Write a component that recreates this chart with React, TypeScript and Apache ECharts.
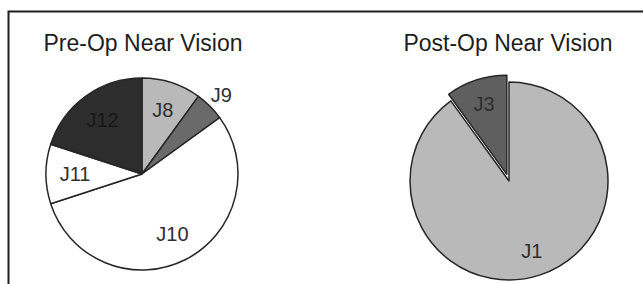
import React, { useEffect, useRef } from "react";
import * as echarts from "echarts";

// Pre-op near vision (patients per Jaeger grade)
const preOpNames = ["J8", "J9", "J10", "J11", "J12"];
const preOpCounts = [2, 1, 11, 2, 4];
const preOpOutsideLabels = ["J9"];

// Post-op near vision
const postOpNames = ["J1", "J3"];
const postOpCounts = [18, 2];
const postOpExploded = ["J3"];

const titles = ["Pre-Op Near Vision", "Post-Op Near Vision"];

const sliceColors: Record<string, string> = {
  J1: "#b9b9b9",
  J3: "#5f5f5f",
  J8: "#b9b9b9",
  J9: "#6a6a6a",
  J10: "#ffffff",
  J11: "#ffffff",
  J12: "#2d2d2d",
};

const FONT = '"Liberation Sans", Arial, Helvetica, sans-serif';
const BORDER = "#262626";

export default function App() {
  const ref = useRef<HTMLDivElement>(null);

  useEffect(() => {
    if (!ref.current) return;
    const chart = echarts.init(ref.current, undefined, { renderer: "svg" });

    const preCenter = [142, 174];
    const preR = 96;
    const postCenter = [509, 181];
    const postR = 99;

    const mainSeries = (names: string[], counts: number[], center: number[], r: number, exploded: string[]) => ({
      type: "pie",
      center,
      radius: r,
      startAngle: 90,
      clockwise: true,
      silent: true,
      avoidLabelOverlap: false,
      selectedMode: "multiple",
      selectedOffset: 7,
      label: { show: false },
      labelLine: { show: false },
      emphasis: { disabled: true },
      itemStyle: { borderColor: BORDER, borderWidth: 1.5 },
      data: names.map((n, i) => ({
        name: n,
        value: counts[i],
        selected: exploded.includes(n),
        itemStyle: { color: sliceColors[n] },
      })),
    });

    const labelSeries = (
      names: string[],
      counts: number[],
      center: number[],
      radius: number[],
      exploded: string[],
      shown: (n: string) => boolean
    ) => ({
      type: "pie",
      center,
      radius,
      startAngle: 90,
      clockwise: true,
      silent: true,
      avoidLabelOverlap: false,
      selectedMode: "multiple",
      selectedOffset: 7,
      emphasis: { disabled: true },
      labelLine: { show: false },
      itemStyle: { color: "rgba(0,0,0,0)", borderWidth: 0 },
      label: {
        position: "inside",
        formatter: "{b}",
        fontFamily: FONT,
        fontSize: 20,
        color: "#2a2a2a",
      },
      data: names.map((n, i) => ({
        name: n,
        value: counts[i],
        selected: exploded.includes(n),
        label: { show: shown(n), color: n === "J12" ? "#161616" : "#2e2e2e" },
      })),
    });

    chart.setOption({
      animation: false,
      backgroundColor: "#ffffff",
      graphic: [
        {
          type: "rect",
          shape: { x: 8.5, y: 11.5, width: 800, height: 400 },
          style: { fill: "none", stroke: "#1e1e1e", lineWidth: 2 },
          silent: true,
        },
        {
          type: "text",
          x: 143,
          y: 43,
          style: {
            text: titles[0],
            font: `23px ${FONT}`,
            fill: "#1e1e1e",
            textAlign: "center",
            textVerticalAlign: "middle",
          },
        },
        {
          type: "text",
          x: 508,
          y: 43,
          style: {
            text: titles[1],
            font: `23px ${FONT}`,
            fill: "#1e1e1e",
            textAlign: "center",
            textVerticalAlign: "middle",
          },
        },
      ],
      series: [
        mainSeries(preOpNames, preOpCounts, preCenter, preR, []),
        labelSeries(preOpNames, preOpCounts, preCenter, [32, preR], [], (n) => !preOpOutsideLabels.includes(n)),
        labelSeries(preOpNames, preOpCounts, preCenter, [preR, 122], [], (n) => preOpOutsideLabels.includes(n)),
        mainSeries(postOpNames, postOpCounts, postCenter, postR, postOpExploded),
        labelSeries(postOpNames, postOpCounts, postCenter, [43, postR], postOpExploded, () => true),
      ],
    });

    return () => chart.dispose();
  }, []);

  return (
    <div
      ref={ref}
      style={{ position: "fixed", left: 0, top: 0, width: 643, height: 284, background: "#fff" }}
    />
  );
}
